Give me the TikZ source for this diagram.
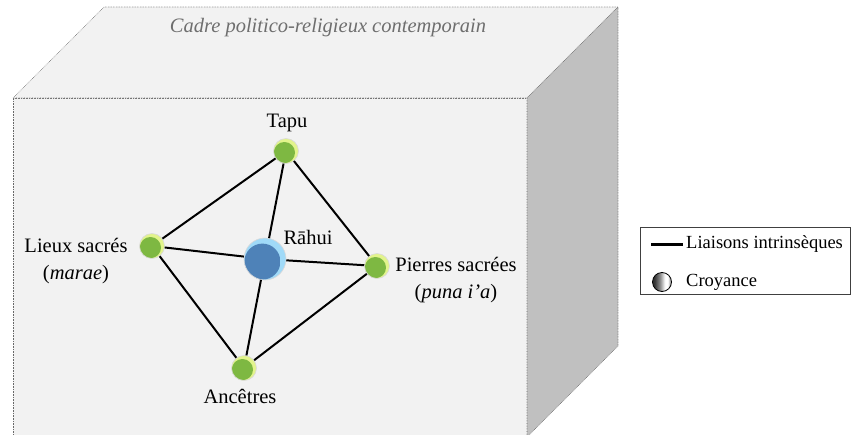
\documentclass[tikz,border=0pt]{standalone}
\usepackage{fontspec}
\setmainfont{Liberation Serif}
\usepackage{tikz}

\definecolor{facefond}{RGB}{242,242,242}
\definecolor{facecote}{RGB}{192,192,192}
\definecolor{bordcadre}{RGB}{105,105,105}
\definecolor{titregris}{RGB}{110,110,110}
\definecolor{vertcentre}{RGB}{126,184,66}
\definecolor{vertsombre}{RGB}{92,146,40}
\definecolor{vertclair}{RGB}{226,244,140}
\definecolor{bleucentre}{RGB}{78,130,184}
\definecolor{bleusombre}{RGB}{60,108,158}
\definecolor{bleuclair}{RGB}{160,218,248}

\pgfdeclareradialshading{interieurvert}{\pgfpoint{0bp}{0bp}}{color(0bp)=(vertcentre); color(34bp)=(vertcentre); color(50bp)=(vertsombre)}
\pgfdeclareradialshading{interieurbleu}{\pgfpoint{0bp}{0bp}}{color(0bp)=(bleucentre); color(38bp)=(bleucentre); color(50bp)=(bleusombre)}
\pgfdeclarehorizontalshading{boulegris}{100bp}{color(0bp)=(black!90); color(30bp)=(black!80); color(45bp)=(black!45); color(58bp)=(white); color(66bp)=(white); color(70bp)=(black!30); color(100bp)=(black!45)}

\tikzset{
  face/.style={draw=bordcadre, densely dotted, line width=0.6pt},
  croyance/.style={circle, inner sep=0pt, minimum size=25pt, draw=white!70!gray, line width=0.6pt, fill=vertclair,
    path picture={\shade[shading=interieurvert] ([shift={(-1.6pt,-1.6pt)}]path picture bounding box.center) circle (10.6pt);}},
  rahuiball/.style={circle, inner sep=0pt, minimum size=42pt, draw=white!70!gray, line width=0.6pt, fill=bleuclair,
    path picture={\shade[shading=interieurbleu] ([shift={(-2.6pt,-2.6pt)}]path picture bounding box.center) circle (18pt);}},
  liaison/.style={draw=black, line width=2pt},
  txt/.style={inner sep=0pt, font=\fontsize{20.5}{27}\selectfont},
  legtxt/.style={inner sep=0pt, anchor=west, font=\fontsize{18.5}{22}\selectfont},
}

\begin{document}
\begin{tikzpicture}[x=1pt,y=1pt,yscale=-1,xscale=1]
        \useasboundingbox (0,0) rectangle (851,434);

        %Cadre: face avant, dessus, cote
        \filldraw[face, fill=facefond] (13,98) -- (527,98) -- (527,437) -- (13,437) -- cycle;
        \filldraw[face, fill=facefond] (13,98) -- (104,7) -- (618,7) -- (527,98) -- cycle;
        \filldraw[face, fill=facecote] (527,98) -- (618,7) -- (618,346) -- (527,437) -- cycle;

        % Titre
        \node[txt, text=titregris, font=\fontsize{20.5}{24}\selectfont\itshape] (titre) at (328,28) {Cadre politico-religieux contemporain};

        % Croyances
        \node[croyance] (tapu) at (286,151) {};
        \node[croyance] (lieux) at (152,246) {};
        \node[rahuiball] (rahui) at (265,259) {};
        \node[croyance] (pierres) at (377,266) {};
        \node[croyance] (ancetres) at (244,368) {};

        % Liaisons
        \draw[liaison] (tapu) -- (lieux);
        \draw[liaison] (tapu) -- (rahui);
        \draw[liaison] (tapu) -- (pierres);
        \draw[liaison] (lieux) -- (rahui);
        \draw[liaison] (lieux) -- (ancetres);
        \draw[liaison] (rahui) -- (pierres);
        \draw[liaison] (rahui) -- (ancetres);
        \draw[liaison] (pierres) -- (ancetres);

        % Text Node
        \node[txt] (tapulbl) at (287,123) {Tapu};
        % Text Node
        \node[txt] (rahuilbl) at (308,237) {R\={a}hui};
        % Text Node
        \node[txt, align=center] (lieuxlbl) at (76,261) {Lieux sacrés\\(\textit{marae})};
        % Text Node
        \node[txt, align=center] (pierreslbl) at (456,280) {Pierres sacrées\\(\textit{puna i’a})};
        % Text Node
        \node[txt] (ancetreslbl) at (240,396) {Ancêtres};

        % Legende
        \draw[draw=black!75, line width=0.9pt, fill=white] (640,227) rectangle (850.5,294);
        \coordinate (legA) at (651,244);
        \coordinate (legB) at (683,244);
        \draw[line width=3pt] (legA) -- (legB);
        \node[legtxt] (legliaison) at (686,244) {Liaisons intrinsèques};
        \node[circle, inner sep=0pt, minimum size=19pt, draw=black, line width=0.8pt, shade, shading=boulegris] (legboule) at (662,282) {};
        \node[legtxt] (legcroyance) at (686,282) {Croyance};
\end{tikzpicture}
\end{document}
